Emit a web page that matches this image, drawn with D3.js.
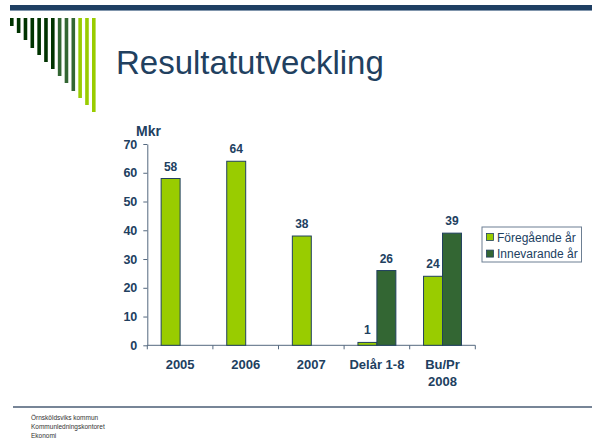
<!DOCTYPE html>
<html><head><meta charset="utf-8">
<script src="https://cdn.jsdelivr.net/npm/d3@7"></script>
<style>
html,body{margin:0;padding:0;background:#fff;}
svg{display:block;font-family:"Liberation Sans",Arial,sans-serif;}
</style></head>
<body>
<svg id="c" width="592" height="439"></svg>
<script>
const categories = ["2005","2006","2007","Delår 1-8","Bu/Pr\n2008"];
const seriesNames = ["Föregående år","Innevarande år"];
const prevYear = [58,64,38,1,24];
const currYear = [null,null,null,26,39];
const yTicks = [0,10,20,30,40,50,60,70];
const footerLines = ["Örnsköldsviks kommun","Kommunledningskontoret","Ekonomi"];
const decoBars = [8,15,22,30,37,44,51,58,65,73,80,87,94];

const navy = "#21405f";
const colors = ["#99cc00","#336633"];
const svg = d3.select("#c");

// top band
svg.append("rect").attr("x",10).attr("y",5).attr("width",582).attr("height",5).attr("fill","#1f3f63");
svg.append("rect").attr("x",10).attr("y",10).attr("width",582).attr("height",1).attr("fill","#8095ac");

// decorative bars
const decoColor = i => i < 7 ? "#003300" : (i < 10 ? "#336633" : "#99cc00");
const dx = d3.scaleLinear().domain([0,12]).range([10,92]);
svg.selectAll("rect.deco").data(decoBars).enter().append("rect")
  .attr("x",(d,i)=>dx(i)).attr("y",18).attr("width",3.6).attr("height",d=>d)
  .attr("fill",(d,i)=>decoColor(i));

// title
svg.append("text").attr("x",116).attr("y",74).attr("font-size",33).attr("fill",navy)
  .text("Resultatutveckling");

// chart
const y = d3.scaleLinear().domain([0,70]).range([345.3,144]);
const x = d3.scaleBand().domain(categories).range([147.3,475.3]);
const x1 = d3.scaleBand().domain(seriesNames).range([0,x.bandwidth()]).paddingOuter(0.73);

const g = svg.append("g");
const yAxis = g.append("g").attr("transform","translate(147.3,0)")
  .call(d3.axisLeft(y).tickValues(yTicks).tickSize(4).tickPadding(6).tickSizeOuter(0));
yAxis.selectAll("text").attr("font-size",12.5).attr("font-weight","bold").attr("fill",navy)
  .attr("font-family","Liberation Sans, Arial, sans-serif");
yAxis.selectAll("line").attr("stroke","#54687f");
yAxis.select(".domain").attr("stroke","#54687f");

// x axis with ticks at boundaries
const xg = g.append("g").attr("transform","translate(0,345.3)");
xg.append("line").attr("x1",147.3).attr("x2",475.3).attr("stroke","#54687f");
const bounds = categories.map(c=>x(c)).concat([x(categories[categories.length-1])+x.bandwidth()]);
xg.selectAll("line.t").data(bounds).enter().append("line")
  .attr("x1",d=>d).attr("x2",d=>d).attr("y1",0).attr("y2",4).attr("stroke","#54687f");
xg.selectAll("text.cat").data(categories).enter().append("text")
  .attr("text-anchor","middle").attr("font-size",13).attr("font-weight","bold").attr("fill",navy)
  .attr("transform",d=>`translate(${x(d)+x.bandwidth()/2},24)`)
  .each(function(d){
    d.split("\n").forEach((line,i)=>{
      d3.select(this).append("tspan").attr("x",0).attr("y",i*17).text(line);
    });
  });

// Mkr
svg.append("text").attr("x",136).attr("y",135.5).attr("font-size",14).attr("font-weight","bold").attr("fill",navy).text("Mkr");

// bars
const data = [prevYear, currYear];
data.forEach((vals,si)=>{
  const pts = categories.map((c,i)=>({c,v:vals[i]})).filter(d=>d.v!=null);
  g.selectAll(null).data(pts).enter().append("rect")
    .attr("x",d=>x(d.c)+x1(seriesNames[si]))
    .attr("y",d=>y(d.v))
    .attr("width",x1.bandwidth())
    .attr("height",d=>y(0)-y(d.v))
    .attr("fill",colors[si]).attr("stroke",navy).attr("stroke-width",1);
  g.selectAll(null).data(pts).enter().append("text")
    .attr("x",d=>x(d.c)+x1(seriesNames[si])+x1.bandwidth()/2)
    .attr("y",d=>y(d.v)-8)
    .attr("text-anchor","middle").attr("font-size",12).attr("font-weight","bold").attr("fill",navy)
    .text(d=>d.v);
});

// legend
const lg = svg.append("g").attr("transform","translate(482,227)");
lg.append("rect").attr("x",0).attr("y",0).attr("width",99.5).attr("height",35)
  .attr("fill","#fff").attr("stroke","#6d7f93").attr("stroke-width",1);
seriesNames.forEach((s,i)=>{
  lg.append("rect").attr("x",4.5).attr("y",6.5+i*16.6).attr("width",7).attr("height",7)
    .attr("fill",colors[i]).attr("stroke",navy).attr("stroke-width",0.8);
  lg.append("text").attr("x",15).attr("y",14.7+i*16.6).attr("font-size",12).attr("fill",navy).text(s);
});

// footer
svg.append("line").attr("x1",13).attr("x2",592).attr("y1",407).attr("y2",407)
  .attr("stroke","#4a5d75").attr("stroke-width",1.3);
svg.selectAll("text.ft").data(footerLines).enter().append("text")
  .attr("x",31).attr("y",(d,i)=>420+i*9).attr("font-size",6.5).attr("fill","#333").text(d=>d);
</script>
</body></html>
